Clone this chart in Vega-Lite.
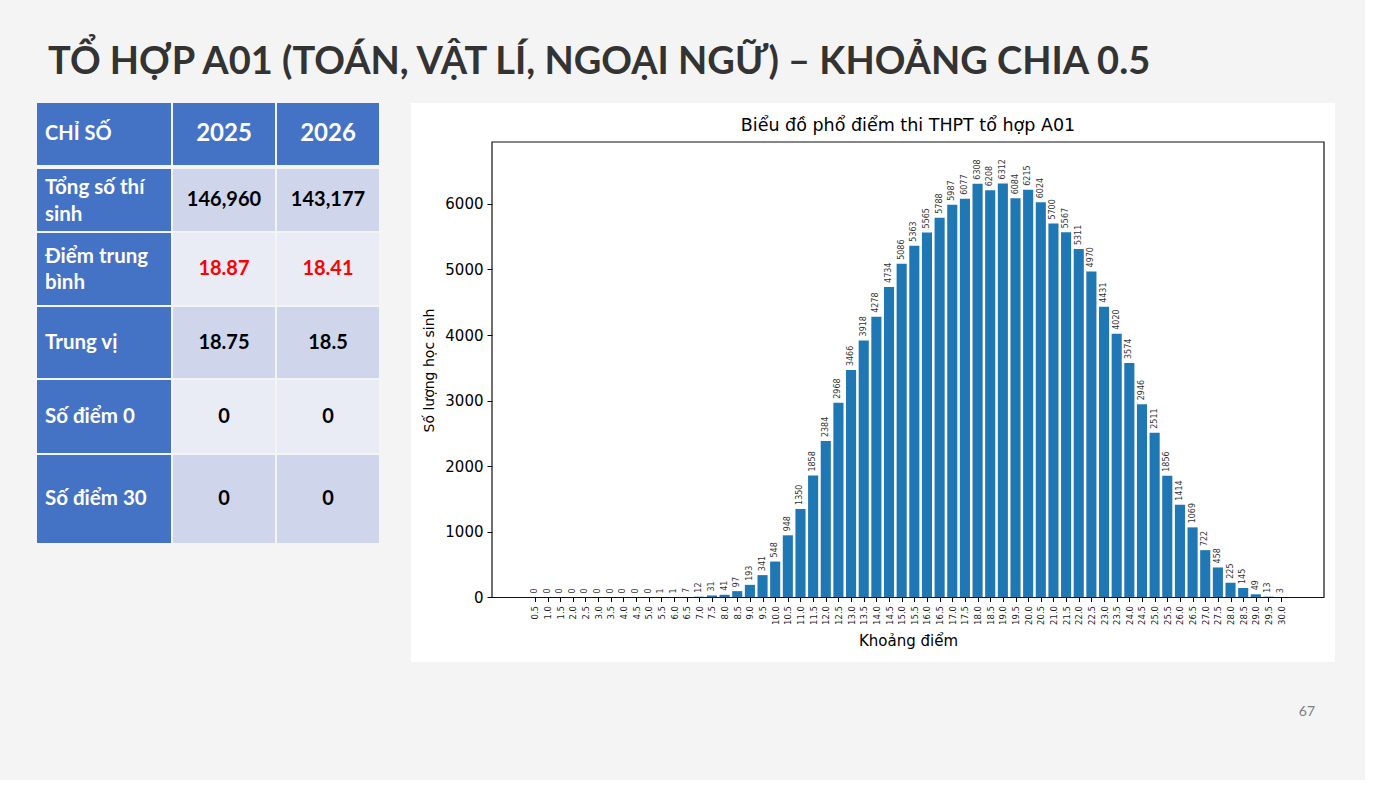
{
  "$schema": "https://vega.github.io/schema/vega-lite/v6.json",
  "background": "#f4f4f4",
  "padding": {"left": 37, "top": 44, "right": 30, "bottom": 61},
  "title": {
    "text": "TỔ HỢP A01 (TOÁN, VẬT LÍ, NGOẠI NGỮ) – KHOẢNG CHIA 0.5",
    "anchor": "start",
    "frame": "bounds",
    "dx": 11,
    "font": "Lato",
    "fontSize": 38,
    "fontWeight": "bold",
    "color": "#333333",
    "offset": 21
  },
  "config": {
    "view": {"stroke": null},
    "text": {"font": "Lato"}
  },
  "spacing": 32,
  "align": "none",
  "hconcat": [
    {
      "spacing": 4,
      "align": "none",
      "vconcat": [
        {
          "spacing": 2,
          "align": "none",
          "hconcat": [
            {"width": 134, "height": 62, "view": {"fill": "#4472c4", "stroke": null},
             "data": {"values": [{"label": "CHỈ SỐ"}]},
             "mark": {"type": "text", "align": "left", "dx": 8, "fontSize": 20, "fontWeight": "bold", "color": "#ffffff"},
             "encoding": {"x": {"datum": 0, "type": "quantitative", "scale": {"domain": [0, 1]}, "axis": null}, "text": {"field": "label"}}},
            {"width": 102, "height": 62, "view": {"fill": "#4472c4", "stroke": null},
             "data": {"values": [{"label": "2025"}]},
             "mark": {"type": "text", "fontSize": 24, "fontWeight": "bold", "color": "#ffffff"},
             "encoding": {"text": {"field": "label"}}},
            {"width": 102, "height": 62, "view": {"fill": "#4472c4", "stroke": null},
             "data": {"values": [{"label": "2026"}]},
             "mark": {"type": "text", "fontSize": 24, "fontWeight": "bold", "color": "#ffffff"},
             "encoding": {"text": {"field": "label"}}}
          ]
        },
        {
          "spacing": 2,
          "align": "none",
          "vconcat": [
            {
              "spacing": 2,
              "align": "none",
              "hconcat": [
                {"width": 134, "height": 62, "view": {"fill": "#4472c4", "stroke": null},
                 "data": {"values": [{"label": "Tổng số thí\nsinh"}]},
                 "mark": {"type": "text", "align": "left", "dx": 8, "dy": -12, "fontSize": 20.5, "fontWeight": "bold", "color": "#ffffff", "lineBreak": "\n", "lineHeight": 27},
                 "encoding": {"x": {"datum": 0, "type": "quantitative", "scale": {"domain": [0, 1]}, "axis": null}, "text": {"field": "label"}}},
                {"width": 102, "height": 62, "view": {"fill": "#cfd5ea", "stroke": null},
                 "data": {"values": [{"label": "146,960"}]},
                 "mark": {"type": "text", "fontSize": 20, "fontWeight": "bold", "color": "#000000"},
                 "encoding": {"text": {"field": "label"}}},
                {"width": 102, "height": 62, "view": {"fill": "#cfd5ea", "stroke": null},
                 "data": {"values": [{"label": "143,177"}]},
                 "mark": {"type": "text", "fontSize": 20, "fontWeight": "bold", "color": "#000000"},
                 "encoding": {"text": {"field": "label"}}}
              ]
            },
            {
              "spacing": 2,
              "align": "none",
              "hconcat": [
                {"width": 134, "height": 72, "view": {"fill": "#4472c4", "stroke": null},
                 "data": {"values": [{"label": "Điểm trung\nbình"}]},
                 "mark": {"type": "text", "align": "left", "dx": 8, "dy": -12.5, "fontSize": 20.5, "fontWeight": "bold", "color": "#ffffff", "lineBreak": "\n", "lineHeight": 26},
                 "encoding": {"x": {"datum": 0, "type": "quantitative", "scale": {"domain": [0, 1]}, "axis": null}, "text": {"field": "label"}}},
                {"width": 102, "height": 72, "view": {"fill": "#e9ebf5", "stroke": null},
                 "data": {"values": [{"label": "18.87"}]},
                 "mark": {"type": "text", "fontSize": 20, "fontWeight": "bold", "color": "#ff0000"},
                 "encoding": {"text": {"field": "label"}}},
                {"width": 102, "height": 72, "view": {"fill": "#e9ebf5", "stroke": null},
                 "data": {"values": [{"label": "18.41"}]},
                 "mark": {"type": "text", "fontSize": 20, "fontWeight": "bold", "color": "#ff0000"},
                 "encoding": {"text": {"field": "label"}}}
              ]
            },
            {
              "spacing": 2,
              "align": "none",
              "hconcat": [
                {"width": 134, "height": 71, "view": {"fill": "#4472c4", "stroke": null},
                 "data": {"values": [{"label": "Trung vị"}]},
                 "mark": {"type": "text", "align": "left", "dx": 8, "fontSize": 20.5, "fontWeight": "bold", "color": "#ffffff"},
                 "encoding": {"x": {"datum": 0, "type": "quantitative", "scale": {"domain": [0, 1]}, "axis": null}, "text": {"field": "label"}}},
                {"width": 102, "height": 71, "view": {"fill": "#cfd5ea", "stroke": null},
                 "data": {"values": [{"label": "18.75"}]},
                 "mark": {"type": "text", "fontSize": 20, "fontWeight": "bold", "color": "#000000"},
                 "encoding": {"text": {"field": "label"}}},
                {"width": 102, "height": 71, "view": {"fill": "#cfd5ea", "stroke": null},
                 "data": {"values": [{"label": "18.5"}]},
                 "mark": {"type": "text", "fontSize": 20, "fontWeight": "bold", "color": "#000000"},
                 "encoding": {"text": {"field": "label"}}}
              ]
            },
            {
              "spacing": 2,
              "align": "none",
              "hconcat": [
                {"width": 134, "height": 73, "view": {"fill": "#4472c4", "stroke": null},
                 "data": {"values": [{"label": "Số điểm 0"}]},
                 "mark": {"type": "text", "align": "left", "dx": 8, "fontSize": 20.5, "fontWeight": "bold", "color": "#ffffff"},
                 "encoding": {"x": {"datum": 0, "type": "quantitative", "scale": {"domain": [0, 1]}, "axis": null}, "text": {"field": "label"}}},
                {"width": 102, "height": 73, "view": {"fill": "#e9ebf5", "stroke": null},
                 "data": {"values": [{"label": "0"}]},
                 "mark": {"type": "text", "fontSize": 20, "fontWeight": "bold", "color": "#000000"},
                 "encoding": {"text": {"field": "label"}}},
                {"width": 102, "height": 73, "view": {"fill": "#e9ebf5", "stroke": null},
                 "data": {"values": [{"label": "0"}]},
                 "mark": {"type": "text", "fontSize": 20, "fontWeight": "bold", "color": "#000000"},
                 "encoding": {"text": {"field": "label"}}}
              ]
            },
            {
              "spacing": 2,
              "align": "none",
              "hconcat": [
                {"width": 134, "height": 88, "view": {"fill": "#4472c4", "stroke": null},
                 "data": {"values": [{"label": "Số điểm 30"}]},
                 "mark": {"type": "text", "align": "left", "dx": 8, "fontSize": 20.5, "fontWeight": "bold", "color": "#ffffff"},
                 "encoding": {"x": {"datum": 0, "type": "quantitative", "scale": {"domain": [0, 1]}, "axis": null}, "text": {"field": "label"}}},
                {"width": 102, "height": 88, "view": {"fill": "#cfd5ea", "stroke": null},
                 "data": {"values": [{"label": "0"}]},
                 "mark": {"type": "text", "fontSize": 20, "fontWeight": "bold", "color": "#000000"},
                 "encoding": {"text": {"field": "label"}}},
                {"width": 102, "height": 88, "view": {"fill": "#cfd5ea", "stroke": null},
                 "data": {"values": [{"label": "0"}]},
                 "mark": {"type": "text", "fontSize": 20, "fontWeight": "bold", "color": "#000000"},
                 "encoding": {"text": {"field": "label"}}}
              ]
            }
          ]
        }
      ]
    },
    {
      "width": 924,
      "height": 559,
      "view": {"fill": "#ffffff", "stroke": null},
      "title": {
        "text": "Biểu đồ phổ điểm thi THPT tổ hợp A01",
        "frame": "group",
        "anchor": "middle",
        "dx": 35,
        "font": "DejaVu Sans",
        "fontSize": 17.5,
        "fontWeight": "normal",
        "color": "#000000",
        "offset": -31
      },
      "data": {
        "values": [
          {"score": 0.5, "count": 0}, {"score": 1.0, "count": 0}, {"score": 1.5, "count": 0},
          {"score": 2.0, "count": 0}, {"score": 2.5, "count": 0}, {"score": 3.0, "count": 0},
          {"score": 3.5, "count": 0}, {"score": 4.0, "count": 0}, {"score": 4.5, "count": 0},
          {"score": 5.0, "count": 0}, {"score": 5.5, "count": 1}, {"score": 6.0, "count": 1},
          {"score": 6.5, "count": 7}, {"score": 7.0, "count": 12}, {"score": 7.5, "count": 31},
          {"score": 8.0, "count": 41}, {"score": 8.5, "count": 97}, {"score": 9.0, "count": 193},
          {"score": 9.5, "count": 341}, {"score": 10.0, "count": 548}, {"score": 10.5, "count": 948},
          {"score": 11.0, "count": 1350}, {"score": 11.5, "count": 1858}, {"score": 12.0, "count": 2384},
          {"score": 12.5, "count": 2968}, {"score": 13.0, "count": 3466}, {"score": 13.5, "count": 3918},
          {"score": 14.0, "count": 4278}, {"score": 14.5, "count": 4734}, {"score": 15.0, "count": 5086},
          {"score": 15.5, "count": 5363}, {"score": 16.0, "count": 5565}, {"score": 16.5, "count": 5788},
          {"score": 17.0, "count": 5987}, {"score": 17.5, "count": 6077}, {"score": 18.0, "count": 6308},
          {"score": 18.5, "count": 6208}, {"score": 19.0, "count": 6312}, {"score": 19.5, "count": 6084},
          {"score": 20.0, "count": 6215}, {"score": 20.5, "count": 6024}, {"score": 21.0, "count": 5700},
          {"score": 21.5, "count": 5567}, {"score": 22.0, "count": 5311}, {"score": 22.5, "count": 4970},
          {"score": 23.0, "count": 4431}, {"score": 23.5, "count": 4020}, {"score": 24.0, "count": 3574},
          {"score": 24.5, "count": 2946}, {"score": 25.0, "count": 2511}, {"score": 25.5, "count": 1856},
          {"score": 26.0, "count": 1414}, {"score": 26.5, "count": 1069}, {"score": 27.0, "count": 722},
          {"score": 27.5, "count": 458}, {"score": 28.0, "count": 225}, {"score": 28.5, "count": 145},
          {"score": 29.0, "count": 49}, {"score": 29.5, "count": 13}, {"score": 30.0, "count": 3}
        ]
      },
      "resolve": {"axis": {"x": "independent", "y": "independent"}},
      "layer": [
        {
          "mark": {"type": "bar", "size": 10.1, "color": "#1f77b4"},
          "encoding": {
            "x": {
              "field": "score", "type": "quantitative",
              "scale": {"domain": [-4.397, 32.13], "nice": false, "zero": false, "padding": 0},
              "axis": {
                "orient": "bottom", "offset": -64.5, "zindex": 1,
                "values": [0.5, 1.0, 1.5, 2.0, 2.5, 3.0, 3.5, 4.0, 4.5, 5.0, 5.5, 6.0, 6.5, 7.0, 7.5, 8.0, 8.5, 9.0, 9.5, 10.0, 10.5, 11.0, 11.5, 12.0, 12.5, 13.0, 13.5, 14.0, 14.5, 15.0, 15.5, 16.0, 16.5, 17.0, 17.5, 18.0, 18.5, 19.0, 19.5, 20.0, 20.5, 21.0, 21.5, 22.0, 22.5, 23.0, 23.5, 24.0, 24.5, 25.0, 25.5, 26.0, 26.5, 27.0, 27.5, 28.0, 28.5, 29.0, 29.5, 30.0],
                "format": ".1f",
                "labelAngle": 270,
                "labelFont": "DejaVu Sans", "labelFontSize": 8.5, "labelColor": "#222222",
                "labelOverlap": false, "labelFlush": false, "labelPadding": 4,
                "tickSize": 4, "tickColor": "#000000", "tickWidth": 1,
                "domain": false,
                "grid": false,
                "title": "Khoảng điểm",
                "titleX": 497,
                "titleFont": "DejaVu Sans", "titleFontSize": 15, "titleFontWeight": "normal", "titleColor": "#000000",
                "titlePadding": 9
              }
            },
            "y": {
              "field": "count", "type": "quantitative",
              "scale": {"domain": [-983.2, 7537.7], "nice": false, "zero": false, "padding": 0},
              "axis": {
                "orient": "left", "offset": -81, "zindex": 1,
                "values": [0, 1000, 2000, 3000, 4000, 5000, 6000],
                "format": "d",
                "labelFont": "DejaVu Sans", "labelFontSize": 15, "labelColor": "#000000",
                "labelPadding": 4,
                "tickSize": 5, "tickColor": "#000000", "tickWidth": 1,
                "domain": false,
                "grid": false,
                "title": "Số lượng học sinh",
                "titleY": 267,
                "titleFont": "DejaVu Sans", "titleFontSize": 14, "titleFontWeight": "normal", "titleColor": "#000000",
                "titlePadding": 8
              }
            }
          }
        },
        {
          "mark": {"type": "text", "angle": 270, "align": "left", "baseline": "middle", "dx": 4, "font": "DejaVu Sans", "fontSize": 8, "color": "#333333"},
          "encoding": {
            "x": {"field": "score", "type": "quantitative", "scale": {"domain": [-4.397, 32.13], "nice": false, "zero": false, "padding": 0}, "axis": null},
            "y": {"field": "count", "type": "quantitative", "scale": {"domain": [-983.2, 7537.7], "nice": false, "zero": false, "padding": 0}, "axis": null},
            "text": {"field": "count", "type": "quantitative", "format": "d"}
          }
        },
        {
          "data": {"values": [{"frame": "axes"}]},
          "mark": {"type": "rect", "filled": false, "color": "#111111", "strokeWidth": 1.2},
          "encoding": {
            "x": {"datum": -1.195, "type": "quantitative", "scale": {"domain": [-4.397, 32.13], "nice": false, "zero": false, "padding": 0}, "axis": null},
            "x2": {"datum": 31.695},
            "y": {"datum": 0, "type": "quantitative", "scale": {"domain": [-983.2, 7537.7], "nice": false, "zero": false, "padding": 0}, "axis": null},
            "y2": {"datum": 6943.2}
          }
        },
        {
          "data": {"values": [{"page": "67"}]},
          "mark": {"type": "text", "font": "Lato", "fontSize": 14, "color": "#7f7f7f"},
          "encoding": {
            "x": {"datum": 31.02, "type": "quantitative", "scale": {"domain": [-4.397, 32.13], "nice": false, "zero": false, "padding": 0}, "axis": null},
            "y": {"datum": -1745, "type": "quantitative", "scale": {"domain": [-983.2, 7537.7], "nice": false, "zero": false, "padding": 0}, "axis": null},
            "text": {"field": "page"}
          }
        }
      ]
    }
  ]
}
